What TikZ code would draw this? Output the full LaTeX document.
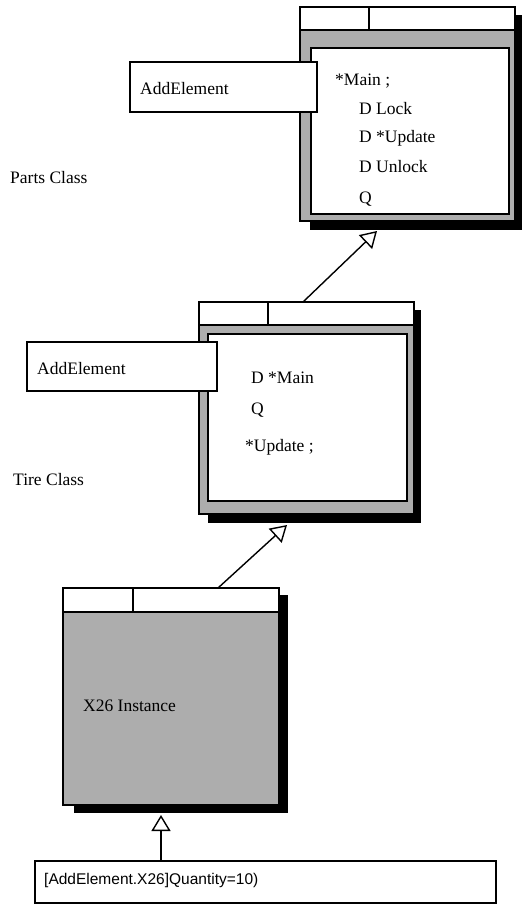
\documentclass[tikz,border=0pt]{standalone}
\usepackage{fontspec}
\setmainfont{Liberation Serif}
\newfontfamily\arialfont{Liberation Sans}
\usetikzlibrary{arrows.meta,calc}
\definecolor{dither}{gray}{0.68}
\begin{document}
\begin{tikzpicture}[x=1pt,y=-1pt,
  bar/.style={draw,line width=1.3pt,fill=white,inner sep=0,outer sep=0,anchor=north west},
  framebox/.style={draw,line width=1.3pt,fill=dither,inner sep=0,outer sep=0,anchor=north west},
  innerbox/.style={draw,line width=1.2pt,fill=white,inner sep=0,outer sep=0,anchor=north west},
  shadowbox/.style={fill=black,inner sep=0,outer sep=0,anchor=north west},
  methodbox/.style={draw,line width=1.3pt,fill=white,inner sep=0,outer sep=0,anchor=north west},
  lbl/.style={font=\fontsize{17.5}{20}\selectfont,anchor=base west,inner sep=0},
  gen/.style={line width=1.4pt,line join=miter,-{Triangle[fill=white,length=16pt,width=19pt,line width=1.4pt]}}
]
\useasboundingbox (0,0) rectangle (522,906);

% ---------- Parts class ----------
\node[shadowbox,minimum width=212pt,minimum height=215pt] (pshadow) at (310,15) {};
\node[framebox,minimum width=215pt,minimum height=191pt] (pframe) at (300,30) {};
\node[innerbox,minimum width=198pt,minimum height=166pt] (pinner) at (311,48) {};
\node[bar,minimum width=215pt,minimum height=23pt] (ptitle) at (300,7) {};
\draw[line width=1.3pt] ([xshift=69pt]ptitle.north west) -- ([xshift=69pt]ptitle.south west);
\node[methodbox,minimum width=187pt,minimum height=50pt] (padd) at (130,62) {};
\node[lbl] (paddt) at (140,94) {AddElement};
\node[lbl] (pm1) at (335,85) {*Main ;};
\node[lbl] (pm2) at (359,114) {D Lock};
\node[lbl] (pm3) at (359,142) {D *Update};
\node[lbl] (pm4) at (359,172) {D Unlock};
\node[lbl] (pm5) at (359,203) {Q};
\node[lbl] (plabel) at (10,183) {Parts Class};

% ---------- Tire class ----------
\node[shadowbox,minimum width=213pt,minimum height=213pt] (tshadow) at (208,310) {};
\node[framebox,minimum width=215pt,minimum height=189pt] (tframe) at (199,325) {};
\node[innerbox,minimum width=199pt,minimum height=167pt] (tinner) at (208,334) {};
\node[bar,minimum width=215pt,minimum height=23pt] (ttitle) at (199,302) {};
\draw[line width=1.3pt] ([xshift=69pt]ttitle.north west) -- ([xshift=69pt]ttitle.south west);
\node[methodbox,minimum width=190pt,minimum height=49pt] (tadd) at (27,342) {};
\node[lbl] (taddt) at (37,374) {AddElement};
\node[lbl] (tm1) at (251,383) {D *Main};
\node[lbl] (tm2) at (251,414) {Q};
\node[lbl] (tm3) at (245,451) {*Update ;};
\node[lbl] (tlabel) at (13,485) {Tire Class};

% ---------- X26 instance ----------
\node[shadowbox,minimum width=214pt,minimum height=218pt] (xshadow) at (74,595) {};
\node[framebox,minimum width=216pt,minimum height=193pt] (xframe) at (63,612) {};
\node[bar,minimum width=216pt,minimum height=24pt] (xtitle) at (63,588) {};
\draw[line width=1.3pt] ([xshift=70pt]xtitle.north west) -- ([xshift=70pt]xtitle.south west);
\node[lbl] (xlabel) at (83,711) {X26 Instance};

% ---------- message box ----------
\node[methodbox,minimum width=461pt,minimum height=42pt] (msg) at (35,861) {};
\node[font=\arialfont\fontsize{15.5}{18}\selectfont,anchor=base west,inner sep=0] (msgt) at (44,884) {[AddElement.X26]Quantity=10)};

% ---------- generalisation arrows ----------
\draw[gen] ([xshift=126pt]msg.north west) -- ([xshift=87pt,yshift=-2pt]xshadow.south west);
\draw[gen] ([xshift=155pt]xtitle.north west) -- ([xshift=79pt,yshift=-2pt]tshadow.south west);
\draw[gen] ([xshift=104pt]ttitle.north west) -- ([xshift=67pt,yshift=-1pt]pshadow.south west);
\end{tikzpicture}
\end{document}
